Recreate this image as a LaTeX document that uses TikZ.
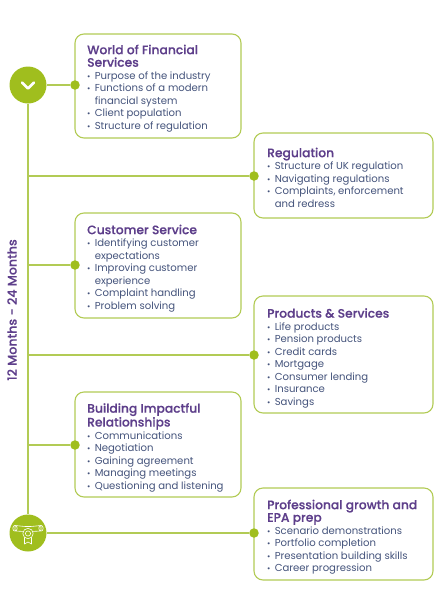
\documentclass[tikz,border=0pt]{standalone}
\usepackage{fontspec}
\setmainfont{Poppins}
\newfontfamily\headfont{Poppins Medium}[FakeBold=0.25]
\definecolor{lime}{HTML}{A0BE1E}
\definecolor{limeline}{HTML}{B2CB55}
\definecolor{plum}{HTML}{5E3F8B}
\definecolor{inkblue}{HTML}{45547C}
\newcommand{\bl}[1]{\makebox[7.6pt][l]{\scalebox{0.8}{•}}#1}
\newcommand{\cn}[1]{\hspace*{7.6pt}#1}
\newcommand{\ttl}[1]{{\headfont\fontsize{12.3}{12.5}\selectfont\color{plum}#1}}
\tikzset{
  x=1pt,y=-1pt,
  card/.style={draw=limeline,line width=1.1pt,fill=white,rounded corners=9pt,minimum width=#1,inner sep=0pt},
  txt/.style={anchor=north west,inner sep=0pt,align=left,text=inkblue,font=\fontsize{10.1}{12.55}\selectfont},
  dot/.style={circle,fill=lime,minimum size=9.5pt,inner sep=0pt},
  bigdot/.style={circle,fill=lime,minimum size=37pt,inner sep=0pt},
  link/.style={draw=limeline,line width=1.1pt},
  icon/.style={draw=white,line width=0.6pt,line join=round},
}
\begin{document}
\begin{tikzpicture}
\useasboundingbox (0,0) rectangle (437,614);
% cards
\node[card=166pt,minimum height=104pt] (c1) at (158,86) {};
\node[card=179pt,minimum height=85pt] (c2) at (343.5,175.5) {};
\node[card=166pt,minimum height=105pt] (c3) at (158,265.5) {};
\node[card=179pt,minimum height=117pt] (c4) at (343.5,354.5) {};
\node[card=166pt,minimum height=105pt] (c5) at (158,444.5) {};
\node[card=179pt,minimum height=92pt] (c6) at (343.5,534) {};
% spine anchors
\node[bigdot] (top) at (28,85) {};
\node[bigdot] (bot) at (28,533) {};
\coordinate (j2) at (28,176);
\coordinate (j3) at (28,265);
\coordinate (j4) at (28,355);
\coordinate (j5) at (28,445);
\node[dot] (d1) at (75,85) {};
\node[dot] (d2) at (254,176) {};
\node[dot] (d3) at (75,265) {};
\node[dot] (d4) at (254,355) {};
\node[dot] (d5) at (75,445) {};
\node[dot] (d6) at (254,533) {};
\draw[link] (top) -- (bot);
\draw[link] (top) -- (d1);
\draw[link] (j2) -- (d2);
\draw[link] (j3) -- (d3);
\draw[link] (j4) -- (d4);
\draw[link] (j5) -- (d5);
\draw[link] (bot) -- (d6);
% chevron
\draw[white,line width=2.6pt,line cap=round,line join=round] ([shift={(-6,-2.5)}]top.center) -- ([shift={(0,3.5)}]top.center) -- ([shift={(6,-2.5)}]top.center);
% diploma
\draw[icon,rounded corners=1pt] ([shift={(-13,-7.5)}]bot.center) -- ([shift={(-3,-6.5)}]bot.center) -- ([shift={(3,-6.5)}]bot.center) -- ([shift={(13,-7.5)}]bot.center) -- ([shift={(13,-2)}]bot.center) -- ([shift={(3,-1.5)}]bot.center) -- ([shift={(-3,-1.5)}]bot.center) -- ([shift={(-13,-2)}]bot.center) -- cycle;
\draw[icon] ([shift={(-13,-4.75)}]bot.center) ellipse[x radius=2.2,y radius=2.9];
\draw[icon] ([shift={(13,-4.75)}]bot.center) ellipse[x radius=2.2,y radius=2.9];
\draw[icon,fill=lime] ([shift={(-3.5,3)}]bot.center) -- ([shift={(-3.5,11)}]bot.center) -- ([shift={(0,9)}]bot.center) -- ([shift={(3.5,11)}]bot.center) -- ([shift={(3.5,3)}]bot.center);
\draw[icon,fill=lime] ([shift={(0,0.5)}]bot.center) circle[radius=5.2];
\draw[icon] ([shift={(0,0.5)}]bot.center) circle[radius=2.6];
% text
\node[txt] (t1) at (87,44.5) {\ttl{World of Financial}\\\ttl{Services}\\\bl{Purpose of the industry}\\\bl{Functions of a modern}\\\cn{financial system}\\\bl{Client population}\\\bl{Structure of regulation}};
\node[txt] (t2) at (267,147.5) {\ttl{Regulation}\\\bl{Structure of UK regulation}\\\bl{Navigating regulations}\\\bl{Complaints, enforcement}\\\cn{and redress}};
\node[txt] (t3) at (87,224.5) {\ttl{Customer Service}\\\bl{Identifying customer}\\\cn{expectations}\\\bl{Improving customer}\\\cn{experience}\\\bl{Complaint handling}\\\bl{Problem solving}};
\node[txt] (t4) at (267,308) {\ttl{Products \& Services}\\\bl{Life products}\\\bl{Pension products}\\\bl{Credit cards}\\\bl{Mortgage}\\\bl{Consumer lending}\\\bl{Insurance}\\\bl{Savings}};
\node[txt] (t5) at (87,403) {\ttl{Building Impactful}\\\ttl{Relationships}\\\bl{Communications}\\\bl{Negotiation}\\\bl{Gaining agreement}\\\bl{Managing meetings}\\\bl{Questioning and listening}};
\node[txt] (t6) at (267,499.5) {\ttl{Professional growth and}\\\ttl{EPA prep}\\\bl{Scenario demonstrations}\\\bl{Portfolio completion}\\\bl{Presentation building skills}\\\bl{Career progression}};
\node[rotate=90,text=plum,font=\headfont\fontsize{12.6}{12}\selectfont] (span) at (12,310) {12 Months - 24 Months};
\end{tikzpicture}
\end{document}
